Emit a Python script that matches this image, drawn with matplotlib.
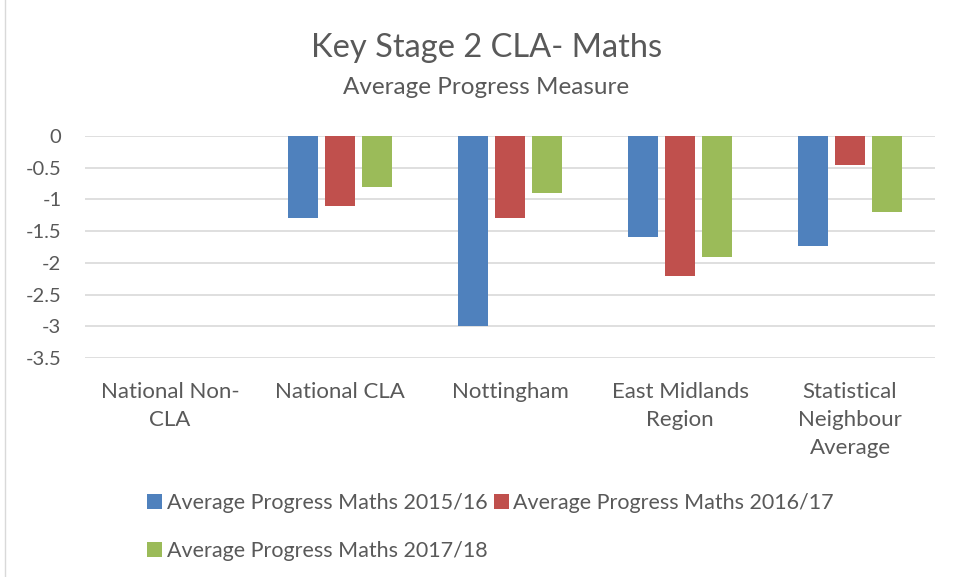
import matplotlib.pyplot as plt
import numpy as np

plt.rcParams['font.family'] = ['Lato', 'DejaVu Sans']

# --- datos ---
categorias = ["National Non-\nCLA", "National CLA", "Nottingham",
              "East Midlands\nRegion", "Statistical\nNeighbour\nAverage"]
series = ["Average Progress Maths 2015/16",
          "Average Progress Maths 2016/17",
          "Average Progress Maths 2017/18"]
v_2015 = [0, -1.3, -3.0, -1.6, -1.73]
v_2016 = [0, -1.1, -1.3, -2.2, -0.45]
v_2017 = [0, -0.8, -0.9, -1.9, -1.2]
y_ticks = [0, -0.5, -1, -1.5, -2, -2.5, -3, -3.5]

colores = ["#4F81BD", "#C0504D", "#9BBB59"]
gris = "#595959"

fig = plt.figure(figsize=(9.55, 5.77), dpi=100)
ax = fig.add_axes([85 / 955, 1 - 358 / 577, 850 / 955, 222 / 577])

x = np.arange(len(categorias))
ancho = 0.176
sep = 0.22
barras = []
for i, (vals, col) in enumerate(zip([v_2015, v_2016, v_2017], colores)):
    b = ax.bar(x + (i - 1) * sep, vals, ancho, color=col,
               linewidth=0, label=series[i], zorder=3)
    barras.append(b)

ax.set_xlim(-0.5, len(categorias) - 0.5)
ax.set_ylim(-3.5, 0)
ax.set_yticks(y_ticks)
ax.set_yticklabels([f"{t:g}" for t in y_ticks])
ax.yaxis.grid(True, color="#D9D9D9", linewidth=1.2, zorder=0)
ax.tick_params(axis="y", length=0, pad=17, labelsize=14.5, labelcolor=gris)
ax.set_xticks([])
for s in ax.spines.values():
    s.set_visible(False)

# etiquetas de categoría
for xi, cat in zip(x, categorias):
    ax.annotate(cat, xy=(xi, -3.5), xycoords="data", xytext=(0, -17),
                textcoords="offset points", ha="center", va="top",
                fontsize=16, color=gris, linespacing=1.5)

# títulos
cx = 486.5 / 955
fig.text(cx, 1 - 48 / 577, "Key Stage 2 CLA- Maths", ha="center", va="center",
         fontsize=23.5, color=gris)
fig.text(cx, 1 - 88 / 577, "Average Progress Measure", ha="center", va="center",
         fontsize=17.5, color=gris)

# leyenda (orden por filas)
h = [barras[0], barras[2], barras[1]]
l = [series[0], series[2], series[1]]
fig.legend(h, l, ncol=2, loc="upper left", bbox_to_anchor=(128 / 955, 1 - 474 / 577),
           frameon=False, fontsize=15.5, labelcolor=gris, handlelength=0.7,
           handleheight=0.7, handletextpad=0.2, columnspacing=0.3,
           labelspacing=1.3)

# borde
fig.add_artist(plt.Line2D([5 / 955, 5 / 955], [0, 1], color="#D9D9D9",
                          linewidth=1, transform=fig.transFigure))

fig.savefig("out.png", dpi=100, facecolor="white")
